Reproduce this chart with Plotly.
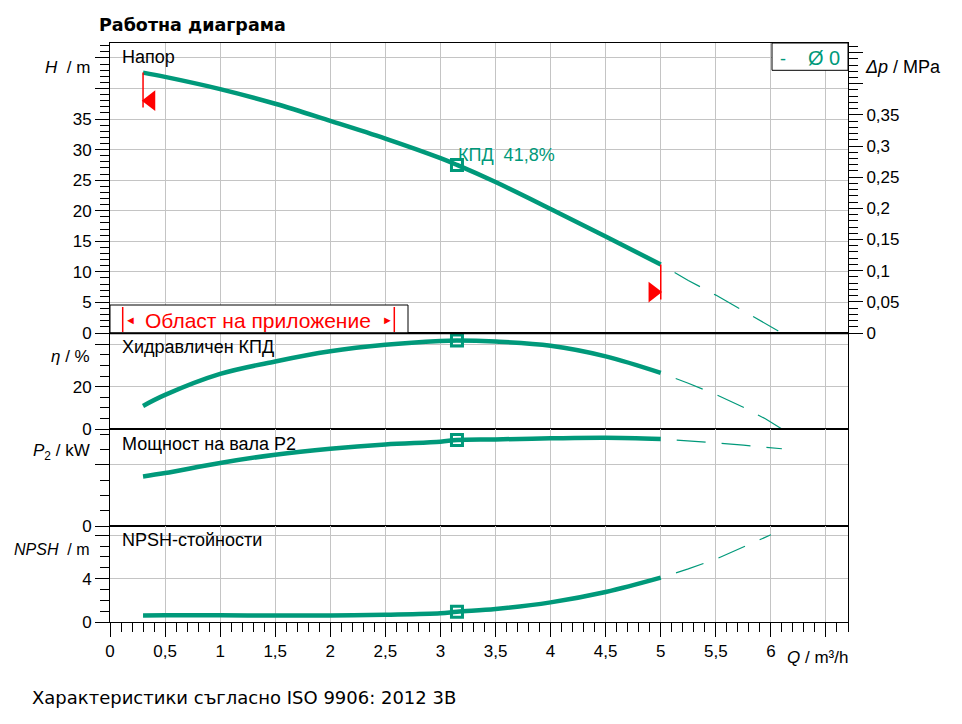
import plotly.graph_objects as go
from plotly.subplots import make_subplots

# Data
q = [0.3, 0.5, 1.0, 1.5, 2.0, 2.5, 3.0, 3.15, 3.5, 4.0, 4.5, 5.0]
head = [42.6, 41.9, 39.9, 37.5, 34.7, 31.8, 28.6, 27.5, 24.7, 20.3, 15.8, 11.2]
eta = [10.9, 16.1, 26.0, 31.9, 36.7, 39.8, 41.6, 41.8, 41.3, 39.3, 34.3, 26.5]
p2 = [0.324, 0.346, 0.412, 0.466, 0.505, 0.533, 0.551, 0.562, 0.566, 0.573, 0.577, 0.569]
npsh = [0.61, 0.62, 0.62, 0.60, 0.60, 0.67, 0.80, 0.95, 1.20, 1.81, 2.77, 4.09]

# dashed extensions beyond the application range
q_ext_h = [5.0, 5.25, 5.5, 5.75, 6.1]
head_ext = [11.2, 8.6, 6.2, 3.65, 0.0]
q_ext_eta = [5.0, 5.25, 5.5, 5.75, 5.95, 6.1]
eta_ext = [26.5, 21.6, 16.3, 10.3, 4.8, 0.0]
q_ext_p2 = [5.0, 5.25, 5.5, 5.75, 6.1]
p2_ext = [0.569, 0.557, 0.543, 0.528, 0.505]
q_ext_npsh = [5.0, 5.25, 5.5, 5.75, 6.0]
npsh_ext = [4.09, 4.9, 5.8, 6.9, 8.05]

# best efficiency point
q_bep = 3.15
h_bep = 27.5
eta_bep = 41.8
p2_bep = 0.562
npsh_bep = 0.95

q_ticks = [0, 0.5, 1, 1.5, 2, 2.5, 3, 3.5, 4, 4.5, 5, 5.5, 6, 6.5]
q_labels = ["0", "0,5", "1", "1,5", "2", "2,5", "3", "3,5", "4", "4,5", "5", "5,5", "6", ""]
h_ticks = [0, 5, 10, 15, 20, 25, 30, 35, 40, 45]
h_labels = ["0", "5", "10", "15", "20", "25", "30", "35", "", ""]
dp_ticks = [0, 0.05, 0.1, 0.15, 0.2, 0.25, 0.3, 0.35, 0.4, 0.45]
dp_labels = ["0", "0,05", "0,1", "0,15", "0,2", "0,25", "0,3", "0,35", "", ""]

green = "#00997a"
red = "#ff0000"
grid = "#c4c4c4"
font_main = "Liberation Sans, Arial, sans-serif"

# the page puts the figure 8px in from the top-left corner
OFF = 8
# geometry of the plot area in screen px (for placing labels)
PL, PR, PT, PB = 110, 848, 43, 622


def px_x(p):
    return (p - PL) / (PR - PL)


def px_y(p):
    return (PB - p) / (PB - PT)


h_max = 47.44
rho_g = 0.00981  # MPa per m

fig = make_subplots(
    rows=4, cols=1, shared_xaxes=True, vertical_spacing=0,
    row_heights=[290, 96, 97, 96],
    specs=[[{"secondary_y": True}], [{}], [{}], [{}]],
)

solid = dict(color=green, width=4.5)
dashed = dict(color=green, width=1.2, dash="0px,16px,29px,0px")
bep_marker = dict(symbol="square-open", size=11, color=green, line=dict(width=3, color=green))

series = [
    (1, q, head, q_ext_h, head_ext, h_bep),
    (2, q, eta, q_ext_eta, eta_ext, eta_bep),
    (3, q, p2, q_ext_p2, p2_ext, p2_bep),
    (4, q, npsh, q_ext_npsh, npsh_ext, npsh_bep),
]
for row, xs, ys, xe, ye, yb in series:
    fig.add_trace(go.Scatter(x=xe, y=ye, mode="lines", line=dashed,
                             hoverinfo="skip", showlegend=False), row=row, col=1)
    fig.add_trace(go.Scatter(x=xs, y=ys, mode="lines", line=solid, line_shape="spline",
                             hoverinfo="skip", showlegend=False), row=row, col=1)
    fig.add_trace(go.Scatter(x=[q_bep], y=[yb], mode="markers", marker=bep_marker,
                             hoverinfo="skip", showlegend=False), row=row, col=1)

# red flags at the limits of the application range
q_min, q_max = q[0], q[-1]
fig.add_trace(go.Scatter(
    x=[q_min + 0.07, q_max - 0.07], y=[head[0] - 4.6, head[-1] - 4.5],
    mode="markers", hoverinfo="skip", showlegend=False,
    marker=dict(symbol=["triangle-left", "triangle-right"], size=18, color=red),
), row=1, col=1)
# invisible trace on secondary axis to activate it
fig.add_trace(go.Scatter(x=[q_min], y=[0], mode="markers", marker=dict(opacity=0),
                         hoverinfo="skip", showlegend=False), row=1, col=1, secondary_y=True)

shapes = [
    dict(type="line", xref="x", yref="y", x0=q_min, x1=q_min, y0=head[0], y1=head[0] - 5.7,
         line=dict(color=red, width=1.5)),
    dict(type="line", xref="x", yref="y", x0=q_max, x1=q_max, y0=head[-1], y1=head[-1] - 5.7,
         line=dict(color=red, width=1.5)),
    # application range box
    dict(type="rect", xref="paper", yref="paper", x0=px_x(110), x1=px_x(408),
         y0=px_y(333.3), y1=px_y(305), fillcolor="white", line=dict(color="black", width=1)),
    dict(type="line", xref="paper", yref="paper", x0=px_x(122.7), x1=px_x(122.7),
         y0=px_y(332), y1=px_y(307), line=dict(color=red, width=1.5)),
    dict(type="line", xref="paper", yref="paper", x0=px_x(394.3), x1=px_x(394.3),
         y0=px_y(332), y1=px_y(307), line=dict(color=red, width=1.5)),
    # separator under head panel
    dict(type="line", xref="paper", yref="paper", x0=0, x1=1, y0=px_y(333.3), y1=px_y(333.3),
         line=dict(color="black", width=2)),
    # diameter box
    dict(type="rect", xref="paper", yref="paper", x0=px_x(772), x1=1,
         y0=px_y(70.3), y1=1, fillcolor="white", line=dict(color="black", width=1)),
]


def ann(text, x, y, xanchor="left", size=18, color="black", family=font_main):
    return dict(text=text, x=px_x(x), y=px_y(y), xref="paper", yref="paper",
                xanchor=xanchor, yanchor="middle", showarrow=False,
                font=dict(size=size, color=color, family=family))


annotations = [
    ann("<b>Работна диаграма</b>", 97, 25, "left", 17.5, "black", "DejaVu Sans"),
    ann("Характеристики съгласно ISO 9906: 2012 3B", 30, 697, "left", 18, "black", "DejaVu Sans"),
    ann("Напор", 120, 57),
    ann("Хидравличен КПД", 120, 347),
    ann("Мощност на вала P2", 120, 444),
    ann("NPSH-стойности", 120, 540),
    ann("<i>H</i>&#160;&#160;/ m", 92, 67, "right", 17),
    ann("<i>η</i>&#160;/ %", 92, 356, "right", 17),
    ann("<i>P</i><sub>2</sub>&#160;/ kW", 92, 452, "right", 17),
    ann("<i>NPSH</i>&#160;&#160;/ m", 92, 549, "right", 16),
    ann("<i>Δp</i>&#160;/ MPa", 863, 67, "left", 18),
    ann("<i>Q</i>&#160;/ m³/h", 850, 657, "right", 17),
    ann("КПД&#160;&#160;41,8%", 456, 155, "left", 18, green),
    ann("Област на приложение", 257.5, 320, "center", 21, red),
    ann("◄", 130, 320, "center", 11, red),
    ann("►", 387, 320, "center", 11, red),
    ann("-", 783, 59, "center", 18, green),
    ann("Ø 0", 824, 58, "center", 20, green),
]

fig.update_xaxes(
    domain=[0, 1], range=[0, 6.7], tickmode="array", tickvals=q_ticks, ticktext=q_labels,
    showgrid=True, gridcolor=grid, gridwidth=1, zeroline=False,
    showline=True, linecolor="black", linewidth=1, mirror=True,
    ticks="", showticklabels=False, automargin=False,
)
fig.update_xaxes(
    row=4, col=1, ticks="outside", ticklen=14, tickcolor="black", showticklabels=True,
    minor=dict(dtick=0.1, tick0=0, ticks="outside", ticklen=9, tickcolor="black", showgrid=False),
)

yax_common = dict(showgrid=True, gridcolor=grid, gridwidth=1, zeroline=False,
                  showline=True, linecolor="black", linewidth=1, mirror=True,
                  ticks="outside", ticklen=14, tickcolor="black", tickmode="array",
                  automargin=False)

fig.update_yaxes(range=[0, h_max], tickvals=h_ticks, ticktext=h_labels,
                 minor=dict(dtick=1, tick0=0, ticks="outside", ticklen=9, tickcolor="black", showgrid=False),
                 row=1, col=1, secondary_y=False, **yax_common)
fig.update_yaxes(range=[0, h_max * rho_g], tickmode="array", tickvals=dp_ticks, ticktext=dp_labels,
                 showgrid=False, zeroline=False, showline=True, linecolor="black", linewidth=1,
                 ticks="outside", ticklen=14, tickcolor="black", automargin=False,
                 minor=dict(dtick=0.01, tick0=0, ticks="outside", ticklen=9, tickcolor="black"),
                 row=1, col=1, secondary_y=True)
fig.update_yaxes(range=[0, 45.35], tickvals=[0, 20, 40], ticktext=["0", "20", ""],
                 minor=dict(dtick=5, tick0=0, ticks="outside", ticklen=9, tickcolor="black", showgrid=False),
                 row=2, col=1, **yax_common)
fig.update_yaxes(range=[0, 0.634], tickvals=[0, 0.4], ticktext=["0", ""],
                 minor=dict(dtick=0.1, tick0=0, ticks="outside", ticklen=9, tickcolor="black", showgrid=False),
                 row=3, col=1, **yax_common)
fig.update_yaxes(range=[0, 8.86], tickvals=[0, 4, 8], ticktext=["0", "4", ""],
                 minor=dict(dtick=1, tick0=0, ticks="outside", ticklen=9, tickcolor="black", showgrid=False),
                 row=4, col=1, **yax_common)

fig.update_layout(
    width=962 - OFF, height=724 - OFF,
    margin=dict(l=PL - OFF, r=962 - PR, t=PT - OFF, b=724 - PB),
    paper_bgcolor="white", plot_bgcolor="white",
    font=dict(family=font_main, size=17, color="black"),
    separators=", ",
    showlegend=False,
    shapes=shapes,
    annotations=annotations,
)

fig.write_html("out.html")
